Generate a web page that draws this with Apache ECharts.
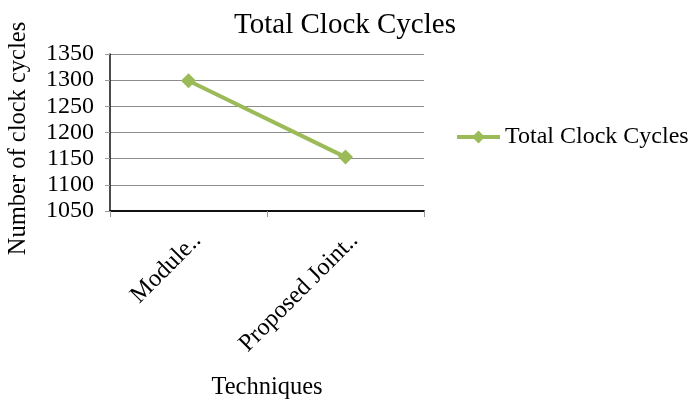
<!DOCTYPE html>
<html>
<head>
<meta charset="utf-8">
<script src="https://cdn.jsdelivr.net/npm/echarts@6/dist/echarts.min.js"></script>
<style>
  html, body { margin: 0; padding: 0; background: #fff; }
  #chart { width: 689px; height: 403px; }
</style>
</head>
<body>
<div id="chart"></div>
<script>
// Technique names and their total clock cycle counts
const techniques = ['Module..', 'Proposed Joint..'];
const totalClockCycles = [1299, 1153];
const seriesName = 'Total Clock Cycles';

const serif = "'Liberation Serif', 'Times New Roman', serif";
const green = '#9BBB59';

const chart = echarts.init(document.getElementById('chart'));
chart.setOption({
  backgroundColor: '#fff',
  animation: false,
  title: {
    text: 'Total Clock Cycles',
    left: 340,
    textAlign: 'center',
    top: 6,
    textStyle: { fontFamily: serif, fontSize: 29, fontWeight: 'normal', color: '#000' }
  },
  legend: {
    left: 450,
    top: 120,
    itemWidth: 43,
    itemHeight: 16,
    itemGap: 4,
    lineStyle: { width: 4, color: green },
    textStyle: { fontFamily: serif, fontSize: 24, color: '#000' },
    data: [seriesName]
  },
  grid: { left: 110, right: 265, top: 54, bottom: 192 },
  xAxis: {
    type: 'category',
    data: techniques,
    boundaryGap: true,
    axisLine: { lineStyle: { color: '#111', width: 2 } },
    axisTick: { show: true, length: 6, inside: false, lineStyle: { color: '#999' } },
    axisLabel: {
      rotate: 45,
      margin: 17,
      align: 'right',
      verticalAlign: 'top',
      fontFamily: serif,
      fontSize: 24.5,
      color: '#000'
    },
    name: 'Techniques',
    nameLocation: 'middle',
    nameGap: 164,
    nameTextStyle: { fontFamily: serif, fontSize: 24.5, color: '#000' }
  },
  yAxis: {
    type: 'value',
    min: 1050,
    max: 1350,
    interval: 50,
    axisLine: { show: true, lineStyle: { color: '#111', width: 1.5 } },
    axisTick: { show: true, length: 5, lineStyle: { color: '#999' } },
    splitLine: { show: true, lineStyle: { color: '#8c8c8c', width: 1 } },
    axisLabel: {
      fontFamily: serif,
      fontSize: 24,
      color: '#000',
      margin: 16,
      formatter: (v) => String(v)
    },
    name: 'Number of clock cycles',
    nameLocation: 'middle',
    nameGap: 79,
    nameRotate: 90,
    nameTextStyle: { fontFamily: serif, fontSize: 24.5, color: '#000', padding: [0, 12, 0, 0] }
  },
  series: [{
    name: seriesName,
    type: 'line',
    data: totalClockCycles,
    symbol: 'diamond',
    symbolSize: 15,
    lineStyle: { color: green, width: 4 },
    itemStyle: { color: green }
  }]
});
</script>
</body>
</html>
